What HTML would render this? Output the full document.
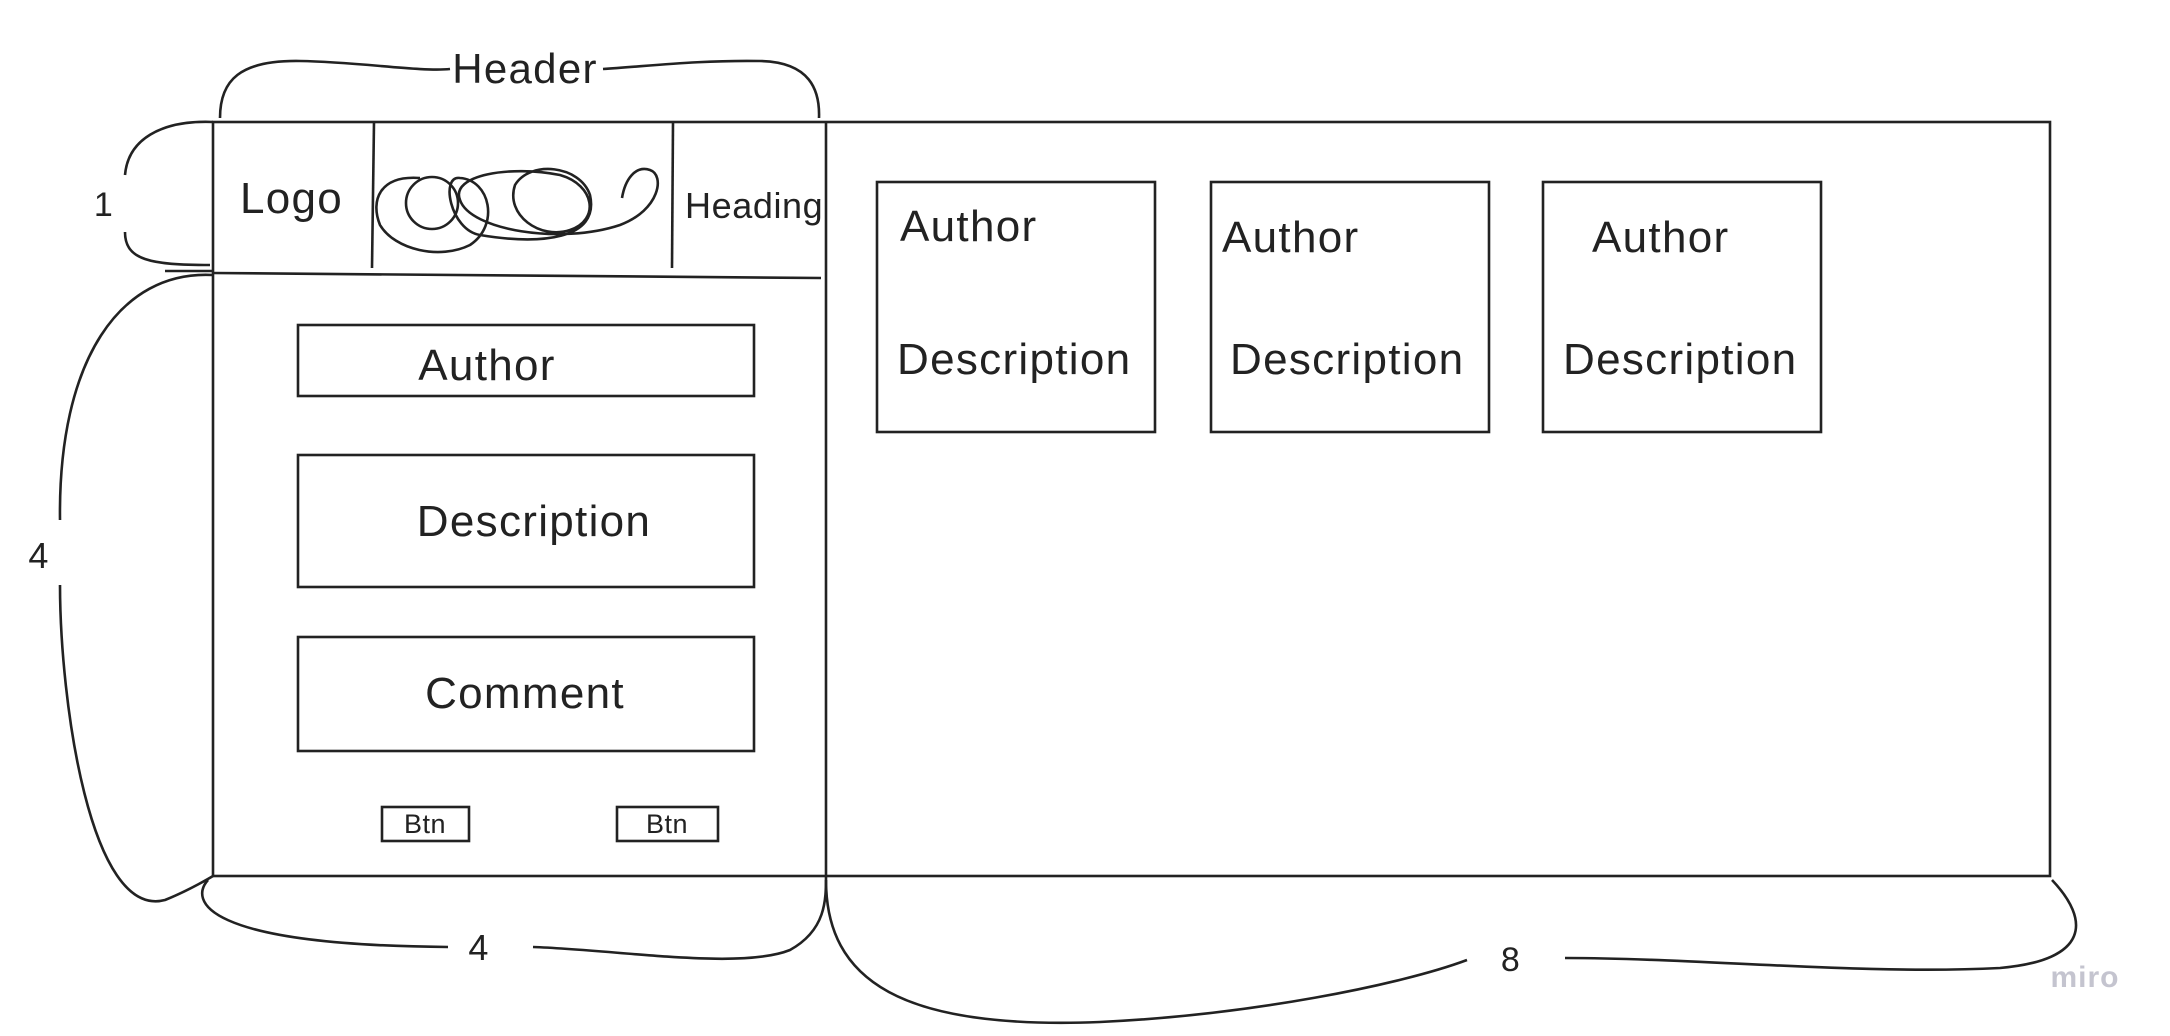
<!DOCTYPE html>
<html><head><meta charset="utf-8"><style>
html,body{margin:0;padding:0;background:#fff;}
svg{display:block;font-family:"Liberation Sans",sans-serif;}
</style></head><body>
<svg width="2170" height="1036" viewBox="0 0 2170 1036" xmlns="http://www.w3.org/2000/svg">
<g fill="none" stroke="#222" stroke-width="2.6">
<rect x="213" y="122" width="1837" height="754"/>
<line x1="826" y1="122" x2="826" y2="876"/>
<line x1="213" y1="273" x2="821" y2="278"/>
<line x1="165" y1="271" x2="213" y2="271"/>
<line x1="374" y1="122" x2="372" y2="268"/>
<line x1="673" y1="122" x2="672" y2="268"/>
<rect x="298" y="325" width="456" height="71"/>
<rect x="298" y="455" width="456" height="132"/>
<rect x="298" y="637" width="456" height="114"/>
<rect x="382" y="807" width="87" height="34"/>
<rect x="617" y="807" width="101" height="34"/>
<rect x="877" y="182" width="278" height="250"/>
<rect x="1211" y="182" width="278" height="250"/>
<rect x="1543" y="182" width="278" height="250"/>
<path d="M420 178 C380 175 370 200 380 225 C395 250 440 260 470 245 C500 225 490 180 460 178 C440 175 450 230 480 235 C540 245 600 240 590 195 C580 165 530 160 515 185 C505 215 540 240 570 230 C600 220 595 185 560 175 C510 165 450 175 460 200 C470 230 560 245 620 225 C660 210 665 175 650 170 C635 165 625 180 622 198"/>
<ellipse cx="432" cy="203" rx="26" ry="26"/>
<path d="M220 118 C220 80 240 60 300 61 C360 62 420 72 450 69"/>
<path d="M603 69 C650 66 700 60 760 61 C810 62 820 90 819 118"/>
<path d="M213 122 C160 120 128 140 125 175"/>
<path d="M125 232 C125 260 150 265 210 265"/>
<path d="M213 275 C120 270 58 360 60 520"/>
<path d="M60 585 C60 700 90 920 165 900 C190 890 213 876 213 876"/>
<path d="M208 880 C190 900 200 945 448 947"/>
<path d="M533 947 C620 950 740 970 790 950 C826 930 826 900 826 876"/>
<path d="M826 880 C826 980 900 1030 1100 1022 C1250 1015 1400 985 1467 960"/>
<path d="M1565 958 C1700 958 1860 975 2000 968 C2090 960 2090 920 2052 880"/>
</g>
<g fill="#222" font-size="44" letter-spacing="1.3">
<text x="525" y="83" text-anchor="middle" font-size="42">Header</text>
<text x="104" y="216" text-anchor="middle" font-size="34">1</text>
<text x="39" y="568" text-anchor="middle" font-size="36">4</text>
<text x="479" y="960" text-anchor="middle" font-size="36">4</text>
<text x="1511" y="971" text-anchor="middle" font-size="34">8</text>
<text x="240" y="213">Logo</text>
<text x="685" y="218" font-size="36" letter-spacing="0.6">Heading</text>
<text x="487" y="380" text-anchor="middle">Author</text>
<text x="534" y="536" text-anchor="middle">Description</text>
<text x="525" y="708" text-anchor="middle">Comment</text>
<text x="425" y="833" text-anchor="middle" font-size="27" letter-spacing="0.5">Btn</text>
<text x="667" y="833" text-anchor="middle" font-size="27" letter-spacing="0.5">Btn</text>
<text x="900" y="241">Author</text>
<text x="897" y="374">Description</text>
<text x="1222" y="252">Author</text>
<text x="1230" y="374">Description</text>
<text x="1592" y="252">Author</text>
<text x="1563" y="374">Description</text>
<text x="2085" y="987" text-anchor="middle" font-size="30" fill="#c4c4cf" font-weight="bold" letter-spacing="1">miro</text>
</g>
</svg>
</body></html>
